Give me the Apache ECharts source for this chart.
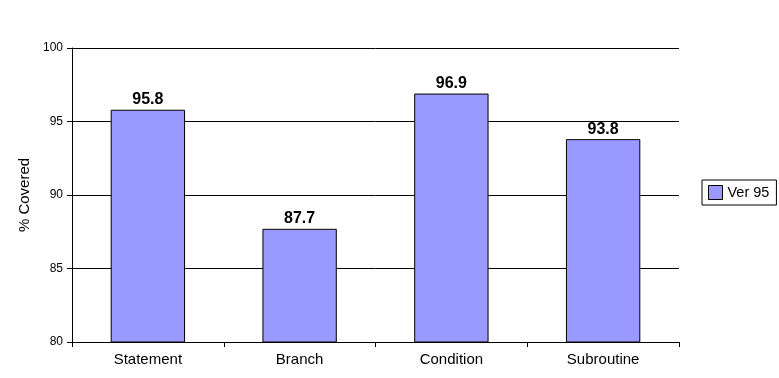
<!DOCTYPE html>
<html>
<head>
<meta charset="utf-8">
<script src="https://cdn.jsdelivr.net/npm/echarts@6/dist/echarts.min.js"></script>
<style>
  html, body { margin: 0; padding: 0; background: #fff; }
  #chart { width: 779px; height: 378px; }
</style>
</head>
<body>
<div id="chart"></div>
<script>
const categories = ['Statement', 'Branch', 'Condition', 'Subroutine']
const ver95 = [95.8, 87.7, 96.9, 93.8]
const seriesName = 'Ver 95'

const chart = echarts.init(document.getElementById('chart'))
const font = 'Liberation Sans, Arial, sans-serif'

chart.setOption({
  animation: false,
  textStyle: { fontFamily: font },
  grid: { left: 72, right: 100, top: 48, bottom: 36 },
  legend: {
    data: [{ name: seriesName, icon: 'rect' }],
    orient: 'vertical',
    left: 702,
    top: 180,
    padding: [5, 7, 5, 6],
    borderColor: '#000',
    borderWidth: 1,
    itemWidth: 14,
    itemHeight: 14,
    itemGap: 4,
    itemStyle: { borderColor: '#000', borderWidth: 1 },
    textStyle: { fontFamily: font, fontSize: 14.5, color: '#000' }
  },
  xAxis: {
    type: 'category',
    data: categories,
    axisLine: { lineStyle: { color: '#000' } },
    axisTick: { show: true, length: 5, lineStyle: { color: '#000' } },
    axisLabel: { color: '#000', fontSize: 15, margin: 10, fontFamily: font }
  },
  yAxis: {
    type: 'value',
    min: 80,
    max: 100,
    interval: 5,
    name: '% Covered',
    nameLocation: 'middle',
    nameGap: 38,
    nameTextStyle: { color: '#000', fontSize: 15, fontFamily: font },
    axisLine: { show: true, lineStyle: { color: '#000' } },
    axisTick: { show: true, length: 5, lineStyle: { color: '#000' } },
    axisLabel: { color: '#000', fontSize: 12, margin: 9, fontFamily: font },
    splitLine: { show: true, lineStyle: { color: '#000', width: 1 } }
  },
  series: [
    {
      name: seriesName,
      type: 'bar',
      data: ver95,
      barWidth: '49%',
      itemStyle: { color: '#9999FF', borderColor: '#000', borderWidth: 1 },
      label: {
        show: true,
        position: 'top',
        distance: 2,
        color: '#000',
        fontWeight: 'bold',
        fontSize: 16,
        fontFamily: font
      }
    }
  ]
})
</script>
</body>
</html>
